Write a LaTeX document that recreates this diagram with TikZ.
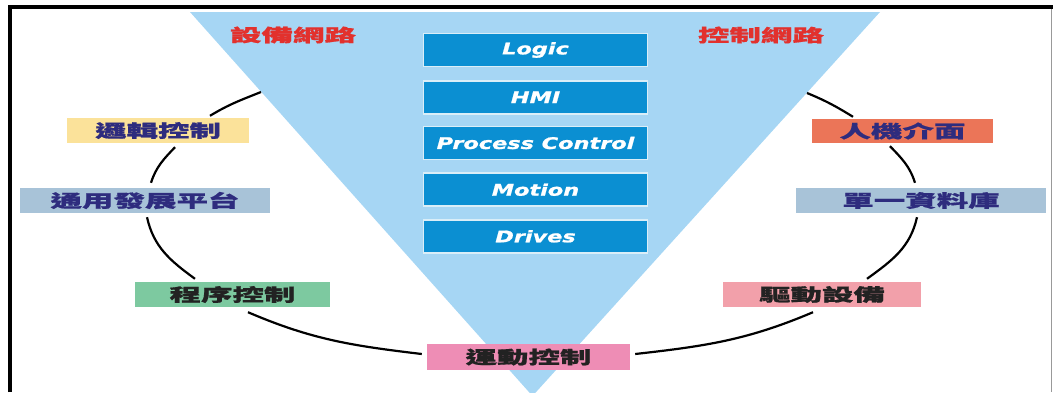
\documentclass[tikz,border=0pt]{standalone}
\usepackage{fontspec}
\newfontfamily\cjk[FakeStretch=1.8,FakeBold=0.8]{Noto Sans CJK TC}
\newfontfamily\latinfont[FakeStretch=1.4,FakeBold=1.2]{DejaVu Sans}
\definecolor{tri}{HTML}{A6D6F4}
\definecolor{bbox}{HTML}{0B8FD2}
\definecolor{redtxt}{HTML}{E2312D}
\definecolor{navy}{HTML}{2E2C7E}
\definecolor{darktxt}{HTML}{222222}
\definecolor{cyellow}{HTML}{FBE29A}
\definecolor{csteel}{HTML}{A8C3D8}
\definecolor{cgreen}{HTML}{7DC9A0}
\definecolor{cpink}{HTML}{EE8DB5}
\definecolor{corange}{HTML}{EB7558}
\definecolor{crose}{HTML}{F2A0AA}
\begin{document}
\begin{tikzpicture}[x=1pt,y=-1pt,
  bluebox/.style={fill=bbox,draw=white!85!bbox,line width=1.5pt,minimum width=224pt,minimum height=33pt,inner sep=0pt,
    text=white,font=\latinfont\bfseries\itshape\fontsize{16}{17}\selectfont},
  lab/.style={minimum height=25pt,inner sep=0pt,font=\cjk\bfseries\fontsize{17.5}{18}\selectfont},
  redlab/.style={inner sep=0pt,text=redtxt,font=\cjk\bfseries\fontsize{17.5}{18}\selectfont},
  conn/.style={line width=2.2pt,black}]
\useasboundingbox (0,0) rectangle (1053,392);
% frame
\draw[line width=4pt,black] (10,392) -- (10,7) -- (1053,7);
\draw[line width=1.2pt,black!40] (1051.5,9) -- (1051.5,392);
% triangle
\fill[tri] (190,12) -- (880,12) -- (532.5,396) -- cycle;
% red labels
\node[redlab] (sb) at (293,35) {設備網路};
\node[redlab] (kz) at (761,35) {控制網路};
% blue boxes
\node[bluebox] (logic) at (535.5,50) {Logic};
\node[bluebox] (hmi) at (535.5,97.3) {HMI};
\node[bluebox] (proc) at (535.5,143) {Process Control};
\node[bluebox] (motion) at (535.5,189.7) {Motion};
\node[bluebox] (drives) at (535.5,236.3) {Drives};
% labels
\node[lab,fill=cyellow,text=navy,minimum width=182pt] (lj) at (158,130.5) {邏輯控制};
\node[lab,fill=csteel,text=navy,minimum width=250pt] (ty) at (145,200.5) {通用發展平台};
\node[lab,fill=cgreen,text=darktxt,minimum width=195pt] (cx) at (232.5,294.5) {程序控制};
\node[lab,fill=cpink,text=darktxt,minimum width=203pt,minimum height=26pt] (yd) at (528.5,357) {運動控制};
\node[lab,fill=crose,text=darktxt,minimum width=198pt] (qd) at (822,294.5) {驅動設備};
\node[lab,fill=csteel,text=navy,minimum width=250pt] (dy) at (921,200.5) {單一資料庫};
\node[lab,fill=corange,text=navy,minimum width=181pt,minimum height=24pt] (rj) at (902.5,131) {人機介面};
% connector ends on triangle edges
\coordinate (TL) at (261,92);
\coordinate (TR) at (807,93);
% connectors
\draw[conn] (TL) to[out=201.8,in=31.3] ([xshift=52pt,yshift=2pt]lj.north);
\draw[conn] ([xshift=17pt,yshift=-4pt]lj.south) to[out=226.4,in=72.3] ([xshift=6pt,yshift=5pt]ty.north);
\draw[conn] ([xshift=2pt,yshift=-4pt]ty.south) to[out=282.5,in=143.9] ([xshift=-37.5pt,yshift=3pt]cx.north);
\draw[conn] ([xshift=15.5pt,yshift=-5pt]cx.south) to[out=-23.2,in=173.2] ([xshift=-5pt,yshift=3pt]yd.west);
\draw[conn] ([xshift=5pt,yshift=3pt]yd.east) to[out=6.4,in=203] ([xshift=-9pt,yshift=-5pt]qd.south);
\draw[conn] ([xshift=45pt,yshift=3pt]qd.north) to[out=36,in=257.5] ([xshift=-4pt,yshift=-4pt]dy.south);
\draw[conn] ([xshift=-6pt,yshift=5pt]dy.north) to[out=107.6,in=314] ([xshift=-12.5pt,yshift=-3pt]rj.south);
\draw[conn] ([xshift=-49.5pt,yshift=2pt]rj.north) to[out=148.4,in=337.6] (TR);
\end{tikzpicture}
\end{document}
